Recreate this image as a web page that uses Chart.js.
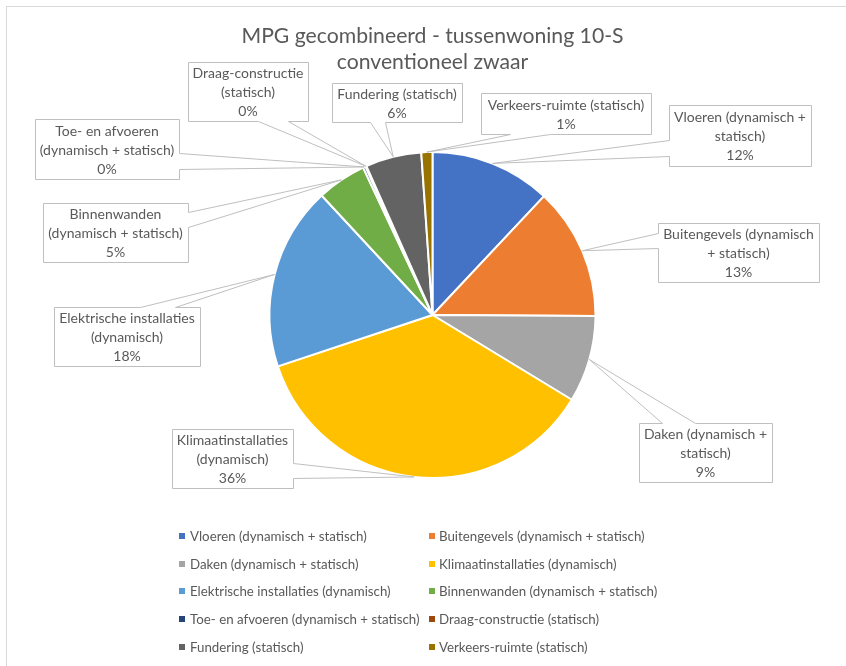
<!DOCTYPE html>
<html>
<head>
<meta charset="utf-8">
<script src="https://cdn.jsdelivr.net/npm/chart.js@4.4.0/dist/chart.umd.min.js"></script>
<style>
  html, body { margin: 0; padding: 0; background: #fff; }
  #wrap { position: relative; width: 846px; height: 666px; overflow: hidden; }
  #frame { position: absolute; left: 6px; top: 6px; width: 900px; height: 700px; border: 1px solid #d9d9d9; }
  #mpgChart { position: absolute; left: 0; top: 0; }
  #legend { position: absolute; left: 0; top: 0; font-family: Lato, sans-serif; font-size: 13.3px; color: #595959; }
  .mark { position: absolute; width: 6px; height: 6px; }
  .txt { position: absolute; white-space: nowrap; line-height: 16px; }
</style>
</head>
<body>
<div id="wrap">
  <div id="frame"></div>
  <canvas id="mpgChart" width="846" height="666"></canvas>
  <div id="legend"></div>
</div>
<script>
// ===============================
// DATA
// ===============================
const labels = [
  "Vloeren (dynamisch + statisch)",
  "Buitengevels (dynamisch + statisch)",
  "Daken (dynamisch + statisch)",
  "Klimaatinstallaties (dynamisch)",
  "Elektrische installaties (dynamisch)",
  "Binnenwanden (dynamisch + statisch)",
  "Toe- en afvoeren (dynamisch + statisch)",
  "Draag-constructie (statisch)",
  "Fundering (statisch)",
  "Verkeers-ruimte (statisch)"
];
const values = [12.0, 13.1, 8.6, 36.2, 18.2, 4.9, 0.25, 0.1, 5.55, 1.1];
const colors = ["#4472C4", "#ED7D31", "#A5A5A5", "#FFC000", "#5B9BD5",
                "#70AD47", "#264478", "#9E480E", "#636363", "#997300"];
const titleLines = ["MPG gecombineerd - tussenwoning 10-S", "conventioneel zwaar"];

// tekst in de labels (zonder percentage)
const calloutText = [
  ["Vloeren (dynamisch +", "statisch)"],
  ["Buitengevels (dynamisch", "+ statisch)"],
  ["Daken (dynamisch +", "statisch)"],
  ["Klimaatinstallaties", "(dynamisch)"],
  ["Elektrische installaties", "(dynamisch)"],
  ["Binnenwanden", "(dynamisch + statisch)"],
  ["Toe- en afvoeren", "(dynamisch + statisch)"],
  ["Draag-constructie", "(statisch)"],
  ["Fundering (statisch)"],
  ["Verkeers-ruimte (statisch)"]
];

// ===============================
// LAYOUT VAN DE LABELS
// box: x, y, w, h ; side: waar de punt vastzit ; base: begin/eind van de punt
// ===============================
const calloutBoxes = [
  { box: [669, 105, 142, 61], side: "left",   base: [140, 156] },
  { box: [658, 223, 161, 59], side: "left",   base: [233, 248] },
  { box: [639, 423, 133, 59], side: "top",    base: [662, 695] },
  { box: [172, 429, 121, 59], side: "right",  base: [463, 478] },
  { box: [54, 307, 146, 59],  side: "top",    base: [140, 175] },
  { box: [43, 203, 145, 59],  side: "right",  base: [212, 227] },
  { box: [35, 119, 144, 60],  side: "right",  base: [153, 169] },
  { box: [188, 62, 120, 59],  side: "bottom", base: [258, 288] },
  { box: [332, 83, 130, 39],  side: "bottom", base: [370, 385] },
  { box: [481, 93, 170, 41],  side: "bottom", base: [510, 550] }
];

const total = values.reduce((a, b) => a + b, 0);
const pct = v => Math.round(v / total * 100) + "%";

// ===============================
// PLUGIN: LABELS MET PUNT
// ===============================
function calloutPath(c, b, side, base, apex) {
  const [x, y, w, h] = b;
  const l = x + 0.5, t = y + 0.5, r = x + w + 0.5, btm = y + h + 0.5;
  c.beginPath();
  c.moveTo(l, t);
  if (side === "top") { c.lineTo(base[0] + 0.5, t); c.lineTo(apex.x, apex.y); c.lineTo(base[1] + 0.5, t); }
  c.lineTo(r, t);
  if (side === "right") { c.lineTo(r, base[0] + 0.5); c.lineTo(apex.x, apex.y); c.lineTo(r, base[1] + 0.5); }
  c.lineTo(r, btm);
  if (side === "bottom") { c.lineTo(base[1] + 0.5, btm); c.lineTo(apex.x, apex.y); c.lineTo(base[0] + 0.5, btm); }
  c.lineTo(l, btm);
  if (side === "left") { c.lineTo(l, base[1] + 0.5); c.lineTo(apex.x, apex.y); c.lineTo(l, base[0] + 0.5); }
  c.closePath();
}

const calloutPlugin = {
  id: "callouts",
  afterDatasetsDraw(chart) {
    const c = chart.ctx;
    const meta = chart.getDatasetMeta(0);
    c.save();
    calloutBoxes.forEach((cb, i) => {
      const arc = meta.data[i];
      const mid = (arc.startAngle + arc.endAngle) / 2;
      const apex = {
        x: arc.x + Math.cos(mid) * arc.outerRadius,
        y: arc.y + Math.sin(mid) * arc.outerRadius
      };
      calloutPath(c, cb.box, cb.side, cb.base, apex);
      c.fillStyle = "#ffffff";
      c.fill();
      c.strokeStyle = "#bfbfbf";
      c.lineWidth = 1;
      c.stroke();

      const lines = calloutText[i].concat([pct(values[i])]);
      const [x, y, w, h] = cb.box;
      const cx = x + w / 2, cy = y + h / 2 + 1;
      c.fillStyle = "#595959";
      c.font = "14px Lato";
      c.textAlign = "center";
      c.textBaseline = "middle";
      lines.forEach((s, k) => {
        c.fillText(s, cx, cy + (k - (lines.length - 1) / 2) * 19);
      });
    });
    c.restore();
  }
};

// ===============================
// INIT CHART
// ===============================
const ctx = document.getElementById("mpgChart");
const mpgChart = new Chart(ctx, {
  type: "pie",
  data: {
    labels: labels,
    datasets: [{
      data: values,
      backgroundColor: colors,
      borderColor: "#ffffff",
      borderWidth: 2
    }]
  },
  options: {
    responsive: false,
    animation: false,
    layout: { padding: { left: 19, right: 0, top: 0, bottom: 187 } },
    plugins: {
      legend: { display: false },
      tooltip: { enabled: false },
      title: {
        display: true,
        text: titleLines,
        color: "#595959",
        font: { family: "Lato", size: 21.2, weight: "normal", lineHeight: "26px" },
        padding: { top: 23, bottom: 76 }
      }
    }
  },
  plugins: [calloutPlugin]
});

// ===============================
// LEGENDA (twee kolommen)
// ===============================
const legend = document.getElementById("legend");
labels.forEach((lab, i) => {
  const col = i % 2, row = Math.floor(i / 2);
  const markX = col === 0 ? 179 : 429;
  const textX = col === 0 ? 190 : 439;
  const y = 536 + row * 27.7;
  const m = document.createElement("div");
  m.className = "mark";
  m.style.left = markX + "px";
  m.style.top = (y - 3) + "px";
  m.style.background = colors[i];
  legend.appendChild(m);
  const t = document.createElement("div");
  t.className = "txt";
  t.style.left = textX + "px";
  t.style.top = (y - 8) + "px";
  t.textContent = lab;
  legend.appendChild(t);
});
</script>
</body>
</html>
